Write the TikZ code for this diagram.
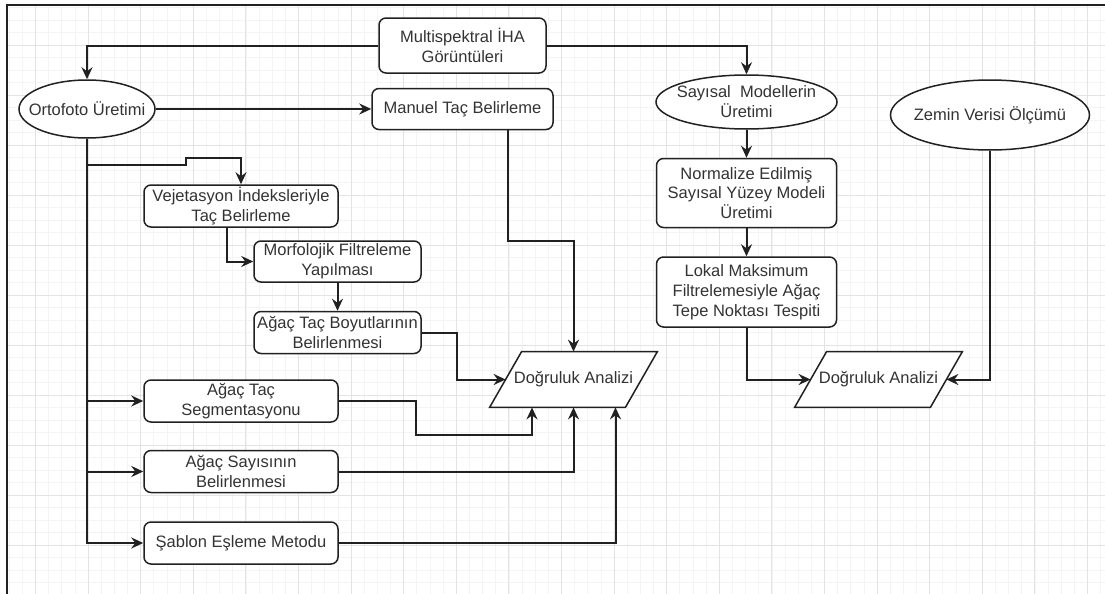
\documentclass[tikz,border=0pt]{standalone}
\usepackage{fontspec}
\setmainfont{Liberation Sans}
\usetikzlibrary{arrows.meta, positioning, calc, backgrounds, shapes.geometric}
\definecolor{GridMinor}{rgb}{0.955, 0.955, 0.955}
\definecolor{GridMajor}{rgb}{0.89, 0.89, 0.89}
\definecolor{LineDark}{rgb}{0.13, 0.13, 0.13}
\definecolor{TextDark}{rgb}{0.2, 0.2, 0.2}

\begin{document}
\begin{tikzpicture}[
    x=0.5pt, y=-0.5pt,
    font=\fontsize{8.25}{9.9}\selectfont,
    box/.style={draw=LineDark, line width=0.75pt, rounded corners=3.5pt,
        fill=white, text=TextDark, align=center, inner sep=1pt,
        minimum width=97pt, minimum height=21pt},
    oval/.style={ellipse, draw=LineDark, line width=0.75pt, fill=white,
        inner sep=0pt, label={[text=TextDark, align=center]center:#1}},
    para/.style={text=TextDark, inner sep=0pt,
        minimum width=67.5pt, minimum height=27.5pt},
    flow/.style={-{Stealth[length=6pt, width=5.5pt, inset=2pt]},
        line width=1pt, LineDark},
]
\useasboundingbox (0,0) rectangle (1105,594);

% ============ arka plan: izgara ve çerçeve ============
\begin{scope}[on background layer]
\begin{scope}
\clip (7,5) rectangle (1105,594);
\foreach \i in {0,...,86} \draw[GridMinor, line width=0.3pt] ({-4.05+13.15*\i},5) -- ++(0,589);
\foreach \j in {0,...,47} \draw[GridMinor, line width=0.3pt] (7,{7.5+12.5*\j}) -- ++(1098,0);
\foreach \i in {0,...,21} \draw[GridMajor, line width=0.4pt] ({35.4+52.6*\i},5) -- ++(0,589);
\foreach \j in {0,...,11} \draw[GridMajor, line width=0.4pt] (7,{45+50*\j}) -- ++(1098,0);
\end{scope}
\draw[LineDark, line width=1.2pt] (7,594) -- (7,5) -- (1105,5);
\end{scope}

% ============ giriş ============
\node[box, minimum width=83.5pt, minimum height=27.5pt] (multi) at (462.5,45.5)
    {Multispektral İHA\\Görüntüleri};

% ============ sol kol: ortofoto ============
\node[oval={Ortofoto Üretimi}, minimum width=68pt, minimum height=29pt] (orto) at (87,109) {};
\node[box, minimum width=90.5pt, minimum height=20.5pt] (manuel) at (462.5,109)
    {Manuel Taç Belirleme};

\node[box] (veje) at (241,206) {Vejetasyon İndeksleriyle\\Taç Belirleme};
\node[box, minimum width=83.5pt, minimum height=20.5pt] (morf) at (337.5,261.5)
    {Morfolojik Filtreleme\\Yapılması};
\node[box, minimum width=83.5pt, below=14pt of morf] (boyut)
    {Ağaç Taç Boyutlarının\\Belirlenmesi};

\node[box] (seg) at (241,401) {Ağaç Taç\\Segmentasyonu};
\node[box, below=13.5pt of seg] (sayi) {Ağaç Sayısının\\Belirlenmesi};
\node[box, below=14pt of sayi] (sablon) {Şablon Eşleme Metodu};

\node[para] (dog1) at (573.5,379.5) {Doğruluk Analizi};

% ============ sağ kol: sayısal modeller ============
\node[oval={Sayısal\ \ Modellerin\\Üretimi}, minimum width=90.5pt, minimum height=27pt]
    (sayisal) at (746.5,102) {};
\node[box, minimum width=90pt, minimum height=34.5pt, below=14pt of sayisal] (normal)
    {Normalize Edilmiş\\Sayısal Yüzey Modeli\\Üretimi};
\node[box, minimum width=90pt, minimum height=35pt, below=14pt of normal] (lokal)
    {Lokal Maksimum\\Filtrelemesiyle Ağaç\\Tepe Noktası Tespiti};

\node[oval={Zemin Verisi Ölçümü}, minimum width=99.5pt, minimum height=35pt]
    (zemin) at (990,115) {};
\node[para] (dog2) at (878.5,379.5) {Doğruluk Analizi};

% paralelkenarlar
\begin{scope}[on background layer]
\foreach \d in {dog1,dog2}
    \filldraw[fill=white, draw=LineDark, line width=0.75pt]
        ([xshift=-8pt]\d.south west) -- ([xshift=8pt]\d.north west)
        -- ([xshift=8pt]\d.north east) -- ([xshift=-8pt]\d.south east) -- cycle;
\end{scope}

% ============ bağlantılar ============
\draw[flow] (multi.west) -| (orto.north);
\draw[flow] (multi.east) -| (sayisal.north);
\foreach \p/\q in {orto/manuel,morf/boyut,sayisal/normal,normal/lokal} \draw[flow] (\p)--(\q);

\draw[flow] (orto.south) |- (sablon.west);
\foreach \n in {seg,sayi} \draw[flow] (orto.south |- \n.west) -- (\n.west);
\draw[flow] (orto.south) ++(0,26) -- ++(99,0) -- ++(0,-7) -| (veje.north);
\draw[flow] ([xshift=-7pt]veje.south) |- (morf.west);

\draw[flow] ([xshift=22.75pt]manuel.south) -- ++(0,110.5) -| (dog1.north);
\draw[flow] (boyut.east) -- ++(35,0) |- (dog1.west);
\draw[flow] (seg.east) -- ++(77,0) -- ++(0,34) -| ([xshift=-20.75pt]dog1.south);
\draw[flow] (sayi.east) -| (dog1.south);
\draw[flow] (sablon.east) -| ([xshift=21pt]dog1.south);

\draw[flow] (lokal.south) |- (dog2.west);
\draw[flow] (zemin.south) |- (dog2.east);

\end{tikzpicture}
\end{document}
